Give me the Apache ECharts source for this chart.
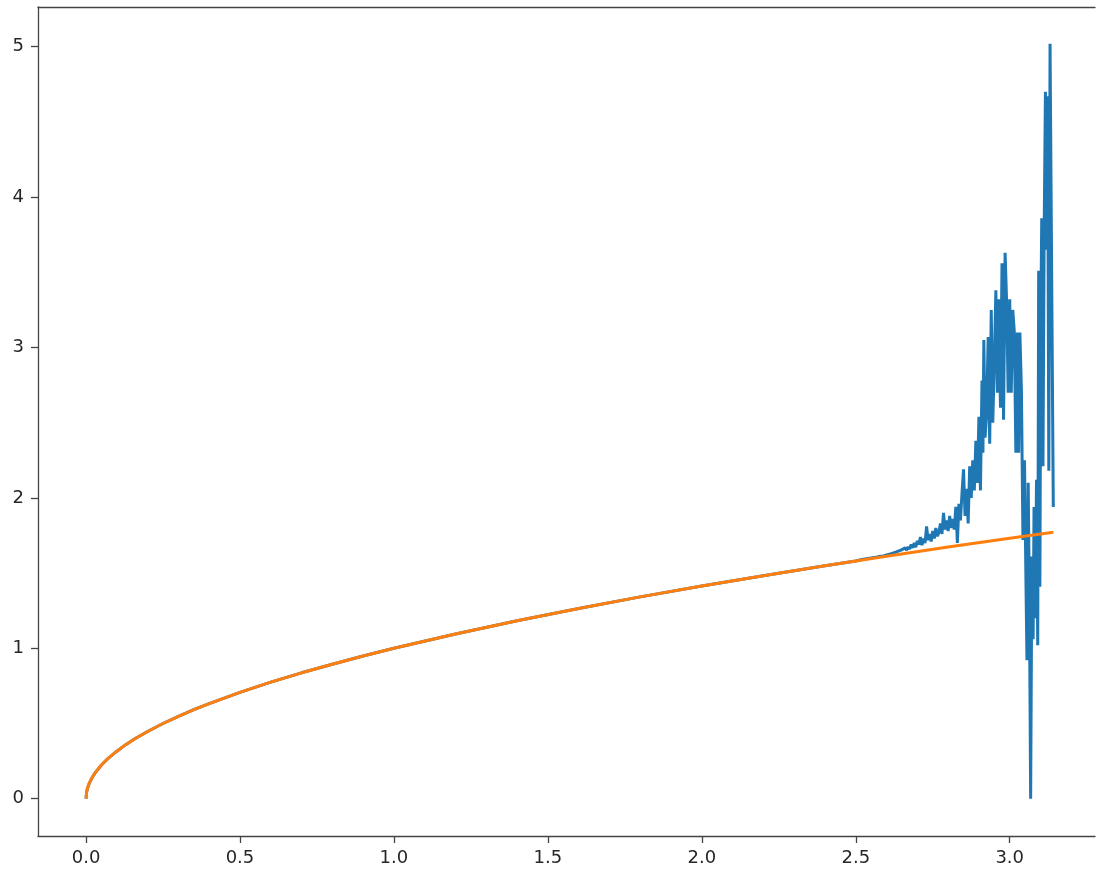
<!DOCTYPE html>
<html>
<head>
<meta charset="utf-8">
<script src="https://cdn.jsdelivr.net/npm/echarts@6/dist/echarts.min.js"></script>
<style>
  html, body { margin: 0; padding: 0; background: #fff; }
  #chart { width: 1096px; height: 874px; }
</style>
</head>
<body>
<div id="chart"></div>
<script>
// smooth part (blue follows it up to ~2.5)
const curveX = [0, 0.002, 0.005, 0.01, 0.02, 0.03, 0.05, 0.07, 0.1, 0.13, 0.16, 0.2, 0.25, 0.3, 0.35, 0.4,
  0.5, 0.6, 0.7, 0.8, 0.9, 1.0, 1.2, 1.4, 1.6, 1.8, 2.0, 2.2, 2.4, 2.5];
const curveY = [0, 0.045, 0.071, 0.1, 0.141, 0.173, 0.224, 0.265, 0.316, 0.361, 0.4, 0.447, 0.5, 0.548, 0.592, 0.632,
  0.707, 0.775, 0.837, 0.894, 0.949, 1.0, 1.095, 1.183, 1.265, 1.342, 1.414, 1.483, 1.549, 1.581];

// orange tail after 2.5
const orangeTailX = [2.6, 2.8, 3.0, 3.1416];
const orangeTailY = [1.612, 1.673, 1.732, 1.772];

// blue noisy tail after 2.5
const noiseX = [2.51, 2.52, 2.53, 2.54, 2.55, 2.56, 2.57, 2.58, 2.59, 2.6, 2.605, 2.61, 2.615, 2.62, 2.625,
  2.63, 2.635, 2.64, 2.645, 2.65, 2.655, 2.66, 2.665, 2.67, 2.675, 2.68, 2.685, 2.69, 2.695, 2.7,
  2.705, 2.71, 2.715, 2.72, 2.725, 2.73, 2.735, 2.74, 2.745, 2.75, 2.755, 2.76, 2.765, 2.77, 2.775,
  2.78, 2.785, 2.79, 2.795, 2.8, 2.805, 2.81, 2.815, 2.82, 2.825, 2.83, 2.835, 2.84, 2.845, 2.85,
  2.855, 2.86, 2.865, 2.87, 2.875, 2.88, 2.885, 2.89, 2.895, 2.9, 2.905, 2.91, 2.913, 2.916, 2.92,
  2.925, 2.93, 2.935, 2.94, 2.945, 2.95, 2.955, 2.96, 2.965, 2.97, 2.975, 2.98, 2.985, 2.99, 2.995,
  3.0, 3.005, 3.01, 3.015, 3.02, 3.025, 3.029, 3.033, 3.038, 3.043, 3.048, 3.053, 3.056, 3.06, 3.064,
  3.068, 3.072, 3.076, 3.079, 3.083, 3.087, 3.091, 3.094, 3.098, 3.101, 3.104, 3.108, 3.112, 3.116,
  3.119, 3.123, 3.127, 3.131, 3.1416];
const noiseY = [1.586, 1.59, 1.594, 1.597, 1.6, 1.604, 1.607, 1.612, 1.614, 1.62, 1.618, 1.626, 1.624, 1.632, 1.628,
  1.64, 1.633, 1.648, 1.64, 1.655, 1.645, 1.668, 1.652, 1.675, 1.66, 1.69, 1.668, 1.7, 1.672, 1.715,
  1.69, 1.74, 1.685, 1.73, 1.7, 1.81, 1.72, 1.76, 1.71, 1.78, 1.73, 1.8, 1.745, 1.77, 1.83,
  1.76, 1.9, 1.79, 1.85, 1.78, 1.88, 1.8, 1.86, 1.79, 1.94, 1.7, 1.96, 1.85, 2.03, 2.19,
  1.88, 2.06, 1.83, 2.21, 2.0, 2.25, 2.05, 2.38, 2.1, 2.54, 2.05, 2.78, 2.3, 3.05, 2.4,
  2.56, 3.07, 2.36, 3.25, 2.5, 2.9, 3.38, 2.7, 3.32, 2.6, 3.56, 2.52, 3.63, 3.3, 2.7,
  3.32, 2.7, 3.25, 3.1, 2.3, 3.1, 2.3, 3.1, 2.72, 1.72, 2.25, 1.4, 0.92, 2.1, 1.3,
  0.0, 1.61, 1.06, 1.94, 1.2, 2.12, 1.02, 3.51, 1.41, 3.18, 3.86, 2.21, 3.8, 4.7,
  3.65, 4.67, 2.18, 5.02, 1.94];

const xTicks = [0, 0.5, 1.0, 1.5, 2.0, 2.5, 3.0];
const yTicks = [0, 1, 2, 3, 4, 5];

const pairs = (xs, ys) => xs.map((x, i) => [x, ys[i]]);
const blueData = pairs(curveX, curveY).concat(pairs(noiseX, noiseY));
const orangeData = pairs(curveX, curveY).concat(pairs(orangeTailX, orangeTailY));

const chart = echarts.init(document.getElementById('chart'));

const spine = { show: true, onZero: false, lineStyle: { color: '#444', width: 1.3 } };
const labelFont = { fontFamily: 'DejaVu Sans', fontSize: 18, color: '#262626' };

chart.setOption({
  animation: false,
  backgroundColor: '#fff',
  grid: { left: 38, right: 1, top: 7, bottom: 38 },
  xAxis: [
    {
      type: 'value',
      min: -0.156,
      max: 3.277,
      axisLine: spine,
      axisTick: { show: true, length: 7, lineStyle: { color: '#444', width: 1.3 }, customValues: xTicks },
      axisLabel: Object.assign({ margin: 13, customValues: xTicks, formatter: v => v.toFixed(1) }, labelFont),
      splitLine: { show: false }
    },
    {
      type: 'value',
      position: 'top',
      min: -0.156,
      max: 3.277,
      axisLine: spine,
      axisTick: { show: false },
      axisLabel: { show: false },
      splitLine: { show: false }
    }
  ],
  yAxis: {
    type: 'value',
    min: -0.248,
    max: 5.264,
    axisLine: spine,
    axisTick: { show: true, length: 7, lineStyle: { color: '#444', width: 1.3 }, customValues: yTicks },
    axisLabel: Object.assign({ margin: 14, customValues: yTicks, formatter: v => String(v) }, labelFont),
    splitLine: { show: false }
  },
  series: [
    {
      type: 'line',
      data: blueData,
      showSymbol: false,
      symbol: 'none',
      lineStyle: { color: '#1f77b4', width: 3 },
      itemStyle: { color: '#1f77b4' }
    },
    {
      type: 'line',
      data: orangeData,
      showSymbol: false,
      symbol: 'none',
      lineStyle: { color: '#ff7f0e', width: 3 },
      itemStyle: { color: '#ff7f0e' }
    }
  ]
});
</script>
</body>
</html>
